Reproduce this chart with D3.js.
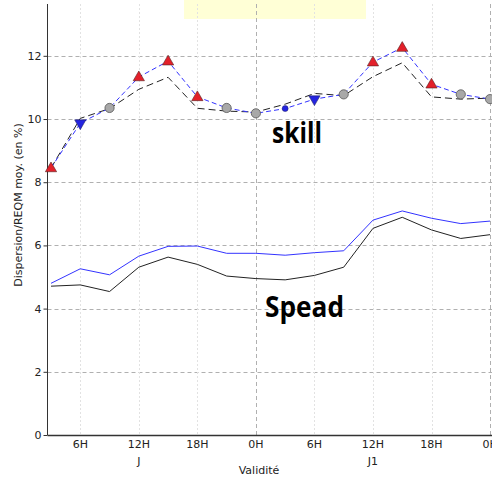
<!DOCTYPE html>
<html><head><meta charset="utf-8">
<script src="https://d3js.org/d3.v7.min.js"></script>
<style>body{margin:0;background:#fff}svg{display:block}</style>
</head><body>
<script>
const hours = [3,6,9,12,15,18,21,24,27,30,33,36,39,42,45,48];
const skillBlue  = [8.45,9.87,10.35,11.33,11.83,10.70,10.35,10.18,10.33,10.63,10.78,11.80,12.26,11.10,10.78,10.63];
const skillBlack = [8.45,10.02,10.33,10.94,11.32,10.34,10.25,10.22,10.47,10.81,10.74,11.34,11.78,10.70,10.63,10.66];
const spreadBlue  = [4.80,5.26,5.07,5.66,5.97,5.98,5.75,5.75,5.69,5.77,5.83,6.80,7.09,6.86,6.69,6.77];
const spreadBlack = [4.71,4.75,4.54,5.31,5.63,5.40,5.03,4.95,4.91,5.05,5.31,6.54,6.89,6.49,6.22,6.34];
const markerTypes = ["up","down","circle","up","up","up","circle","circle","dot","down","circle","up","up","up","circle","circle"];
const xTickHours = [6,12,18,24,30,36,42,48];
const xTickLabels = ["6H","12H","18H","0H","6H","12H","18H","0H"];
const dayHours = [12,36];
const dayLabels = ["J","J1"];
const yTicks = [0,2,4,6,8,10,12];

const W=492,H=477;
const svg=d3.select("body").append("svg").attr("width",W).attr("height",H);
const x=d3.scaleLinear().domain([2.64,48.2]).range([47.5,492]);
const y=d3.scaleLinear().domain([0,13.64]).range([435,4]);
const font="DejaVu Sans, sans-serif";

// legend/highlight box
svg.append("rect").attr("x",184).attr("y",0).attr("width",182).attr("height",19).attr("fill","#ffffd6");

// grid
const g=svg.append("g");
g.selectAll(".hg").data(yTicks.filter(d=>d>0)).join("line")
 .attr("x1",47.5).attr("x2",W).attr("y1",d=>Math.round(y(d))+0.5).attr("y2",d=>Math.round(y(d))+0.5)
 .attr("stroke","#b0b0b0").attr("stroke-dasharray","4,3").attr("stroke-width",1);
g.selectAll(".vg").data(xTickHours).join("line")
 .attr("x1",d=>Math.round(x(d))+0.5).attr("x2",d=>Math.round(x(d))+0.5).attr("y1",4).attr("y2",435)
 .attr("stroke",d=>d%24===0?"#b0b0b0":"#e2e2e2")
 .attr("stroke-dasharray",d=>d%24===0?"4,3":"2,2").attr("stroke-width",1);

// axes
const yAxis=d3.axisLeft(y).tickValues(yTicks).tickSize(4).tickPadding(2);
const ya=svg.append("g").attr("transform","translate(47.5,0)").call(yAxis);
ya.select(".domain").attr("stroke","#333").attr("d","M0,4V435");
ya.selectAll("text").attr("font-family",font).attr("font-size",11).attr("fill","#222");
ya.selectAll(".tick line").attr("stroke","#333");
svg.append("line").attr("x1",47.5).attr("x2",W).attr("y1",435.5).attr("y2",435.5).attr("stroke","#333").attr("stroke-width",1.5);

svg.selectAll(".xl").data(xTickHours).join("text")
 .attr("x",(d)=>x(d)).attr("y",448).attr("text-anchor","middle")
 .attr("font-family",font).attr("font-size",11).attr("fill","#222")
 .text((d,i)=>xTickLabels[i]);
svg.selectAll(".dl").data(dayHours).join("text")
 .attr("x",d=>x(d)).attr("y",465).attr("text-anchor","middle")
 .attr("font-family",font).attr("font-size",11).attr("fill","#222")
 .text((d,i)=>dayLabels[i]);
svg.append("text").attr("x",259).attr("y",474).attr("text-anchor","middle")
 .attr("font-family",font).attr("font-size",11).attr("fill","#222").text("Validité");
svg.append("text").attr("transform","translate(22,205) rotate(-90)").attr("text-anchor","middle")
 .attr("font-family",font).attr("font-size",11).attr("fill","#222").text("Dispersion/REQM moy. (en %)");

// lines
const line=d3.line().x((d,i)=>x(hours[i])).y(d=>y(d));
svg.append("path").attr("d",line(spreadBlack)).attr("fill","none").attr("stroke","#222").attr("stroke-width",1);
svg.append("path").attr("d",line(spreadBlue)).attr("fill","none").attr("stroke","#3333ff").attr("stroke-width",1);
svg.append("path").attr("d",line(skillBlack)).attr("fill","none").attr("stroke","#222").attr("stroke-width",1).attr("stroke-dasharray","7,4");
svg.append("path").attr("d",line(skillBlue)).attr("fill","none").attr("stroke","#3333ff").attr("stroke-width",1).attr("stroke-dasharray","5,3");

// markers
const mk=svg.append("g");
skillBlue.forEach((v,i)=>{
  const cx=x(hours[i]), cy=y(v), t=markerTypes[i];
  if(t==="up"){
    mk.append("path").attr("d",d3.symbol().type(d3.symbolTriangle).size(55)()).attr("transform",`translate(${cx},${cy+0.5})`)
      .attr("fill","#e3202a").attr("stroke","#552222").attr("stroke-width",0.6);
  } else if(t==="down"){
    mk.append("path").attr("d",d3.symbol().type(d3.symbolTriangle).size(55)()).attr("transform",`translate(${cx},${cy}) rotate(180)`)
      .attr("fill","#2424e0").attr("stroke","#222266").attr("stroke-width",0.6);
  } else if(t==="circle"){
    mk.append("circle").attr("cx",cx).attr("cy",cy).attr("r",4.6).attr("fill","#a8a8a8").attr("stroke","#555").attr("stroke-width",0.8);
  } else {
    mk.append("circle").attr("cx",cx).attr("cy",cy).attr("r",3).attr("fill","#2424e0").attr("stroke","#222266").attr("stroke-width",0.5);
  }
});

// annotations
svg.append("text").attr("x",272).attr("y",143).attr("font-family","Open Sans, sans-serif").attr("font-weight","bold")
 .attr("font-size",29).attr("textLength",50).attr("lengthAdjust","spacingAndGlyphs").attr("fill","#000").text("skill");
svg.append("text").attr("x",265).attr("y",317).attr("font-family","Open Sans, sans-serif").attr("font-weight","bold")
 .attr("font-size",29).attr("textLength",79).attr("lengthAdjust","spacingAndGlyphs").attr("fill","#000").text("Spead");
</script>
</body></html>
